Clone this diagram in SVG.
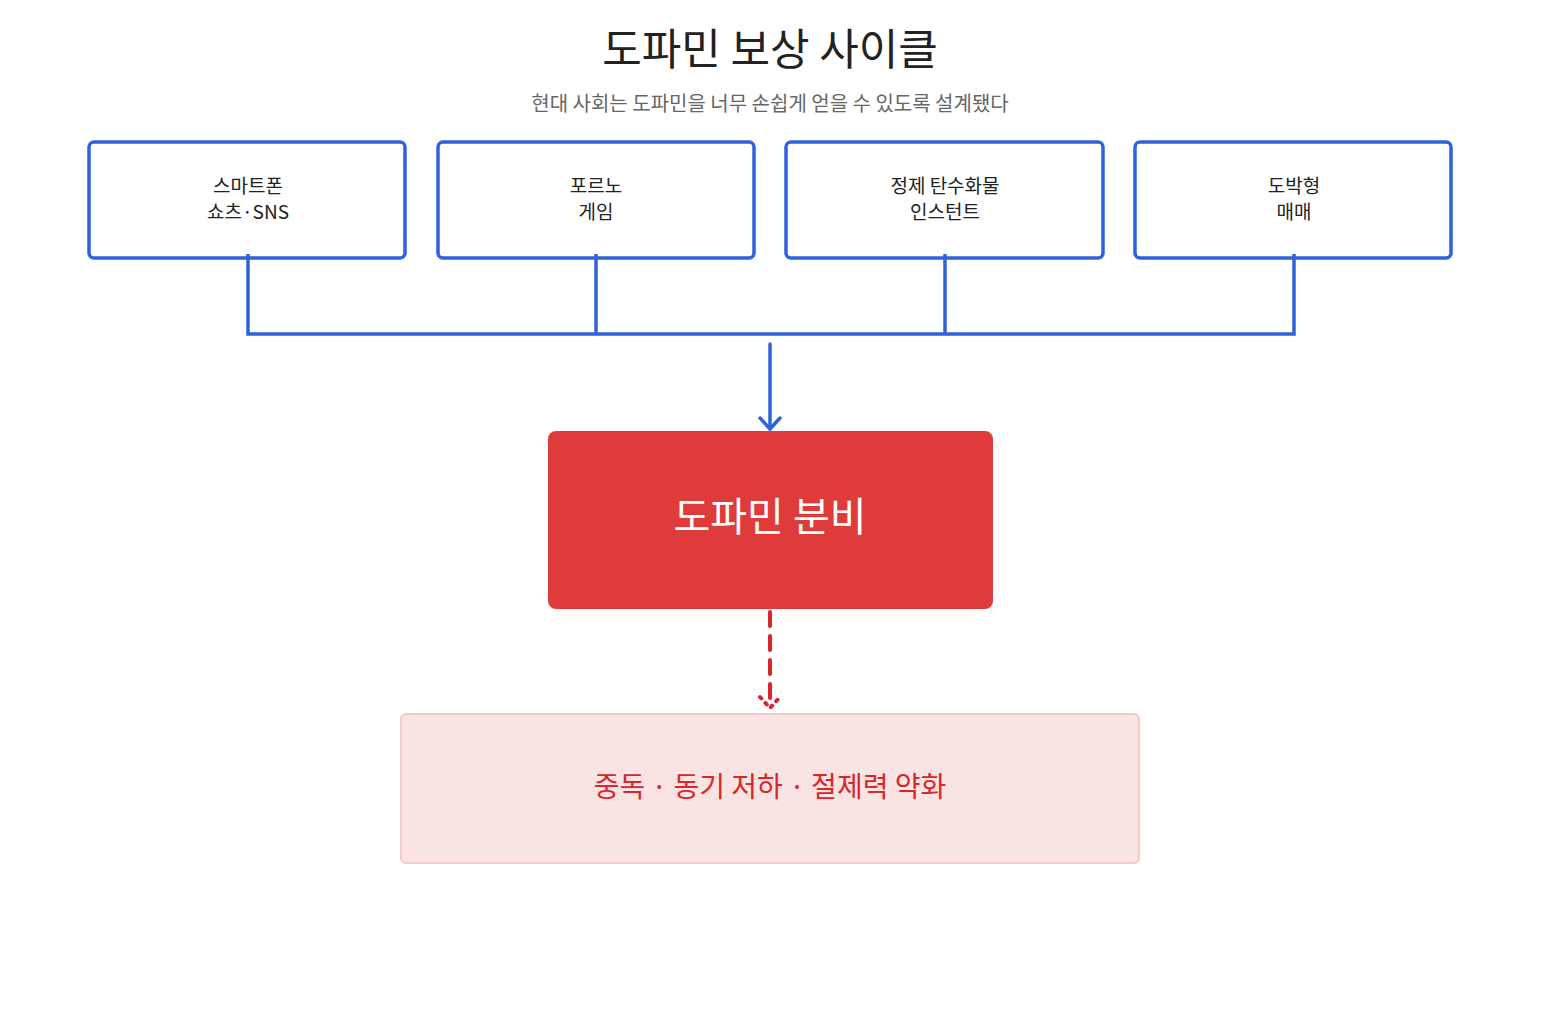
<svg xmlns="http://www.w3.org/2000/svg" width="1541" height="1011" viewBox="0 0 1541 1011">
<style>
.t{font-family:"Noto Sans CJK KR","Noto Sans",sans-serif;text-anchor:middle}
.src{fill:#fff;stroke:#2f63d8;stroke-width:3.5}
.st{font-size:19px;fill:#222}
</style>
<rect width="1541" height="1011" fill="#fff"/>
<text class="t" x="770" y="65" font-size="43" fill="#222">도파민 보상 사이클</text>
<text class="t" x="770" y="111" font-size="20" fill="#666">현대 사회는 도파민을 너무 손쉽게 얻을 수 있도록 설계됐다</text>
<g id="n1"><rect class="src" x="89" y="142" width="316" height="116" rx="5"/><text class="t st" x="248" y="193">스마트폰</text><text class="t st" x="248" y="219">쇼츠·SNS</text></g>
<g id="n2"><rect class="src" x="438" y="142" width="316" height="116" rx="5"/><text class="t st" x="596" y="193">포르노</text><text class="t st" x="596" y="219">게임</text></g>
<g id="n3"><rect class="src" x="786" y="142" width="317" height="116" rx="5"/><text class="t st" x="945" y="193">정제 탄수화물</text><text class="t st" x="945" y="219">인스턴트</text></g>
<g id="n4"><rect class="src" x="1135" y="142" width="316" height="116" rx="5"/><text class="t st" x="1294" y="193">도박형</text><text class="t st" x="1294" y="219">매매</text></g>
<g id="n5"><rect x="548" y="431" width="445" height="178" rx="8" fill="#df3b3b"/><text class="t" x="770" y="531" font-size="40" fill="#fff">도파민 분비</text></g>
<g id="n6"><rect x="401" y="714" width="738" height="149" rx="5" fill="#f9e3e3" stroke="#f3caca" stroke-width="2"/><text class="t" x="770" y="797" font-size="28" fill="#d8262b">중독 · 동기 저하 · 절제력 약화</text></g>
<g id="edges" fill="none" stroke-linecap="round">
<path d="M248 254 V334 H1294 V254 M596 254 V334 M945 254 V334" stroke="#2f63d8" stroke-width="3.5" stroke-linecap="butt"/>
<path d="M770 344 V429" stroke="#2f63d8" stroke-width="3.5"/>
<path d="M760 418 L770 429 L780 418" stroke="#2f63d8" stroke-width="3.5" stroke-linejoin="round"/>
<path d="M770 612 V700" stroke="#d8262b" stroke-width="4" stroke-dasharray="14 10"/>
<path d="M760 697 L770 708 L780 697" stroke="#d8262b" stroke-width="4" stroke-dasharray="2 6" stroke-linejoin="round"/>
</g>
</svg>
